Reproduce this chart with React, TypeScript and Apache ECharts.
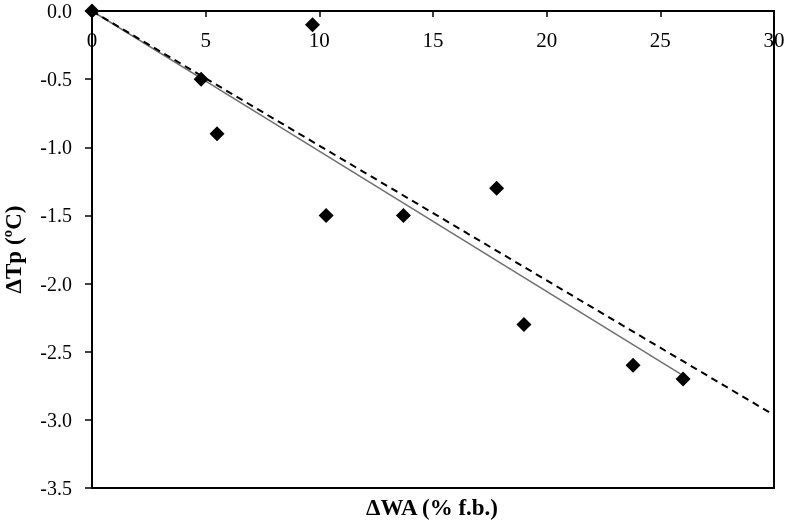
import React, { useEffect, useRef } from "react";
import * as echarts from "echarts";

const pointsX = [0, 4.8, 5.5, 9.7, 10.3, 13.7, 17.8, 19.0, 23.8, 26.0];
const pointsY = [0, -0.5, -0.9, -0.1, -1.5, -1.5, -1.3, -2.3, -2.6, -2.7];
const solidLine = [[0, 0], [25.9, -2.665]];
const dashedLine = [[0, 0], [30, -2.965]];
const xTitle = "ΔWA (% f.b.)";
const yTitle = "ΔTp (ºC)";

export default function App() {
  const ref = useRef<HTMLDivElement>(null);
  useEffect(() => {
    const chart = echarts.init(ref.current!, null, { renderer: "svg" });
    const font = "Liberation Serif";
    chart.setOption({
      animation: false,
      textStyle: { fontFamily: font },
      grid: {
        left: 92,
        top: 11,
        right: 13,
        bottom: 37,
        outerBoundsMode: "none",
        containLabel: false,
        show: true,
        borderColor: "#000",
        borderWidth: 2,
        backgroundColor: "transparent",
      },
      xAxis: {
        type: "value",
        position: "top",
        min: 0,
        max: 30,
        interval: 5,
        splitLine: { show: false },
        axisLine: { show: true, lineStyle: { color: "#000", width: 2 } },
        axisTick: { show: true, inside: true, length: 6, lineStyle: { color: "#000", width: 1.5 } },
        axisLabel: { inside: true, margin: 18, color: "#000", fontSize: 21, fontFamily: font },
      },
      yAxis: {
        type: "value",
        min: -3.5,
        max: 0,
        interval: 0.5,
        splitLine: { show: false },
        axisLine: { show: true, onZero: false, lineStyle: { color: "#000", width: 2 } },
        axisTick: { show: true, length: 7, lineStyle: { color: "#000", width: 1.5 } },
        axisLabel: {
          margin: 20,
          color: "#000",
          fontSize: 20,
          fontFamily: font,
          formatter: (v: number) => v.toFixed(1),
        },
        name: yTitle,
        nameLocation: "middle",
        nameRotate: 90,
        nameGap: 67,
        nameTextStyle: { color: "#000", fontSize: 23, fontWeight: "bold", fontFamily: font },
      },
      graphic: [
        {
          type: "text",
          x: 432,
          y: 507,
          style: {
            text: xTitle,
            fill: "#000",
            fontSize: 23,
            fontWeight: "bold",
            fontFamily: font,
            align: "center",
            verticalAlign: "middle",
          },
        },
      ],
      series: [
        {
          type: "line",
          data: solidLine,
          symbol: "none",
          lineStyle: { color: "#707070", width: 1.5 },
          z: 2,
        },
        {
          type: "line",
          data: dashedLine,
          symbol: "none",
          lineStyle: { color: "#000", width: 2, type: [7, 5] },
          z: 2,
        },
        {
          type: "scatter",
          data: pointsX.map((x, i) => [x, pointsY[i]]),
          symbol: "diamond",
          symbolSize: 15,
          itemStyle: { color: "#000", opacity: 1 },
          z: 3,
        },
      ],
    });
    return () => chart.dispose();
  }, []);
  return (
    <div
      ref={ref}
      style={{ position: "fixed", left: 0, top: 0, width: 787, height: 525 }}
    />
  );
}
